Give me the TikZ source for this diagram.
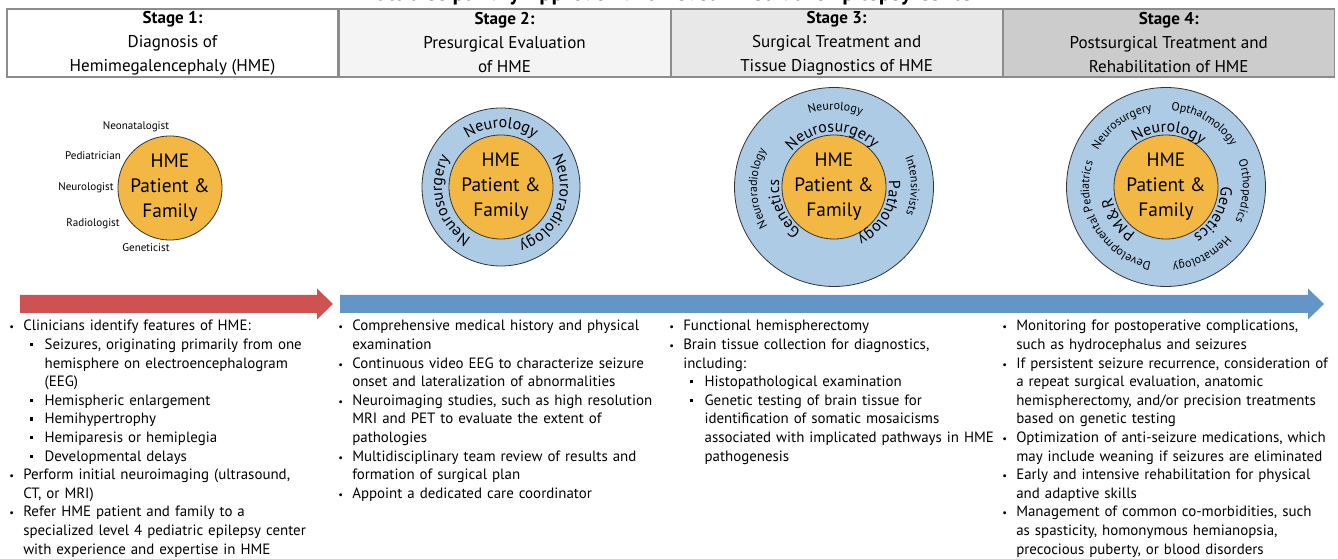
\documentclass[tikz,border=0pt]{standalone}
\usepackage{fontspec}
\setmainfont{PT Sans}
\usetikzlibrary{decorations.text,positioning}

\definecolor{hmeorange}{HTML}{F3B843}
\definecolor{ringblue}{HTML}{ADCBE5}
\definecolor{arrowred}{HTML}{CD5251}
\definecolor{arrowblue}{HTML}{6495C7}
\definecolor{boxline}{HTML}{8C8C8C}

\newlength{\bulw}\setlength{\bulw}{10.5pt}
\newlength{\subw}\setlength{\subw}{26.5pt}
\newcommand{\nl}{\hfil\break}
\newcommand{\bitem}[1]{\par\hangindent=\bulw\hangafter=1\noindent\makebox[\bulw][l]{\scalebox{0.7}{\textbullet}}#1}
\newcommand{\sitem}[1]{\par\hangindent=\subw\hangafter=1\noindent\makebox[\subw][l]{\hspace{\bulw}\hspace{5pt}\rule[2.4pt]{2.5pt}{2.5pt}}#1}

\tikzset{
  stagebox/.style={draw=boxline, line width=0.8pt, minimum width=248.25pt, minimum height=51pt, align=center, inner sep=0pt, font=\fontsize{12.8}{18}\selectfont},
  patient/.style={circle, draw=black!80, line width=0.6pt, fill=hmeorange, minimum size=72.75pt, inner sep=0pt, align=center, font=\fontsize{14.5}{18.75}\selectfont},
  ring/.style={circle, draw=black!80, line width=0.6pt, fill=ringblue, inner sep=0pt},
  role/.style={font=\fontsize{8.3}{10}\selectfont, inner sep=0pt},
  bullets/.style={anchor=north west, inner sep=0pt, text width=256pt, font=\fontsize{11.2}{13.95}\selectfont\raggedright},
  inring/.style={decorate, decoration={text along path, text align=center, text={|\fontsize{12}{12}\selectfont|#1}}},
  outring/.style={decorate, decoration={text along path, text align=center, text={|\fontsize{9}{10}\selectfont|#1}}},
}

\begin{document}
\begin{tikzpicture}[x=0.75pt, y=0.75pt]
\useasboundingbox (0,0) rectangle (1338,-559);

% title, cut at the top edge
\node[font=\bfseries\fontsize{17}{20}\selectfont, anchor=base] (title) at (669,-1) {Multidisciplinary Approach and Level 4 Pediatric Epilepsy Center};

% stage headers
\node[stagebox, fill=white] (h1) at (172.5,-43) {\textbf{Stage 1:}\\Diagnosis of\\Hemimegalencephaly (HME)};
\node[stagebox, fill=gray!9, right=0pt of h1] (h2) {\textbf{Stage 2:}\\Presurgical Evaluation\\of HME};
\node[stagebox, fill=gray!18, right=0pt of h2] (h3) {\textbf{Stage 3:}\\Surgical Treatment and\\Tissue Diagnostics of HME};
\node[stagebox, fill=gray!40, right=0pt of h3] (h4) {\textbf{Stage 4:}\\Postsurgical Treatment and\\Rehabilitation of HME};

% stage 1 team
\node[patient] (p1) at (170,-188) {HME\\Patient \&\\Family};
\node[role] (neo) at (136,-127) {Neonatalogist};
\node[role] (ped) at (93,-156) {Pediatrician};
\node[role] (neu) at (86,-188) {Neurologist};
\node[role] (rad) at (93,-224) {Radiologist};
\node[role] (gen) at (146,-248) {Geneticist};

% stage 2 team
\node[ring, minimum size=118.5pt] (r2) at (501,-187) {};
\node[patient] (p2) at (r2.center) {HME\\Patient \&\\Family};
\path[inring=Neurology] (r2.center) ++(160:59) arc[start angle=160, end angle=20, radius=59];
\path[inring=Neurosurgery] (r2.center) ++(265:59) arc[start angle=265, end angle=125, radius=59];
\path[inring=Neuroradiology] (r2.center) ++(54:59) arc[start angle=54, end angle=-96, radius=59];

% stage 3 team
\node[ring, minimum size=149.25pt] (r3) at (834,-187) {};
\node[patient] (p3) at (r3.center) {HME\\Patient \&\\Family};
\path[inring=Neurosurgery] (r3.center) ++(162:55) arc[start angle=162, end angle=22, radius=55];
\path[inring=Genetics] (r3.center) ++(263:55) arc[start angle=263, end angle=143, radius=55];
\path[inring=Pathology] (r3.center) ++(31:55) arc[start angle=31, end angle=-89, radius=55];
\path[outring=Neurology] (r3.center) ++(149:77) arc[start angle=149, end angle=29, radius=77];
\path[outring=Neuroradiology] (r3.center) ++(241:77) arc[start angle=241, end angle=121, radius=77];
\path[outring=Intensivists] (r3.center) ++(61:77) arc[start angle=61, end angle=-59, radius=77];

% stage 4 team
\node[ring, minimum size=149.25pt] (r4) at (1166,-187) {};
\node[patient] (p4) at (r4.center) {HME\\Patient \&\\Family};
\path[inring=Neurology] (r4.center) ++(157:55) arc[start angle=157, end angle=17, radius=55];
\path[inring=Genetics] (r4.center) ++(30:55) arc[start angle=30, end angle=-90, radius=55];
\path[inring={PM{\&}R}] (r4.center) ++(264:55) arc[start angle=264, end angle=164, radius=55];
\path[outring=Neurosurgery] (r4.center) ++(186:77) arc[start angle=186, end angle=66, radius=77];
\path[outring=Opthalmology] (r4.center) ++(119:77) arc[start angle=119, end angle=-1, radius=77];
\path[outring=Orthopedics] (r4.center) ++(57:77) arc[start angle=57, end angle=-63, radius=77];
\path[outring=Hematology] (r4.center) ++(-2:77) arc[start angle=-2, end angle=-122, radius=77];
\path[outring=Developmental Pediatrics] (r4.center) ++(290:77) arc[start angle=290, end angle=130, radius=77];

% timeline arrows
\fill[arrowred] (20,-295) -- (317,-295) -- (317,-288.5) -- (333,-304) -- (317,-319.5) -- (317,-313) -- (20,-313) -- cycle;
\fill[arrowblue] (340,-295) -- (1308,-295) -- (1308,-288.5) -- (1324,-304) -- (1308,-319.5) -- (1308,-313) -- (340,-313) -- cycle;

% stage texts
\node[bullets] (t1) at (9,-312) {%
\bitem{Clinicians identify features of HME:}
\sitem{Seizures, originating primarily from one\nl hemisphere on electroencephalogram\nl (EEG)}
\sitem{Hemispheric enlargement}
\sitem{Hemihypertrophy}
\sitem{Hemiparesis or hemiplegia}
\sitem{Developmental delays}
\bitem{Perform initial neuroimaging (ultrasound,\nl CT, or MRI)}
\bitem{Refer HME patient and family to a\nl specialized level 4 pediatric epilepsy center\nl with experience and expertise in HME}\par};

\node[bullets] (t2) at (338,-312) {%
\bitem{Comprehensive medical history and physical\nl examination}
\bitem{Continuous video EEG to characterize seizure\nl onset and lateralization of abnormalities}
\bitem{Neuroimaging studies, such as high resolution\nl MRI and PET to evaluate the extent of\nl pathologies}
\bitem{Multidisciplinary team review of results and\nl formation of surgical plan}
\bitem{Appoint a dedicated care coordinator}\par};

\node[bullets] (t3) at (669,-312) {%
\bitem{Functional hemispherectomy}
\bitem{Brain tissue collection for diagnostics,\nl including:}
\sitem{Histopathological examination}
\sitem{Genetic testing of brain tissue for\nl identification of somatic mosaicisms\nl associated with implicated pathways in HME\nl pathogenesis}\par};

\node[bullets] (t4) at (1002,-312) {%
\bitem{Monitoring for postoperative complications,\nl such as hydrocephalus and seizures}
\bitem{If persistent seizure recurrence, consideration of\nl a repeat surgical evaluation, anatomic\nl hemispherectomy, and/or precision treatments\nl based on genetic testing}
\bitem{Optimization of anti-seizure medications, which\nl may include weaning if seizures are eliminated}
\bitem{Early and intensive rehabilitation for physical\nl and adaptive skills}
\bitem{Management of common co-morbidities, such\nl as spasticity, homonymous hemianopsia,\nl precocious puberty, or blood disorders}\par};
\end{tikzpicture}
\end{document}
